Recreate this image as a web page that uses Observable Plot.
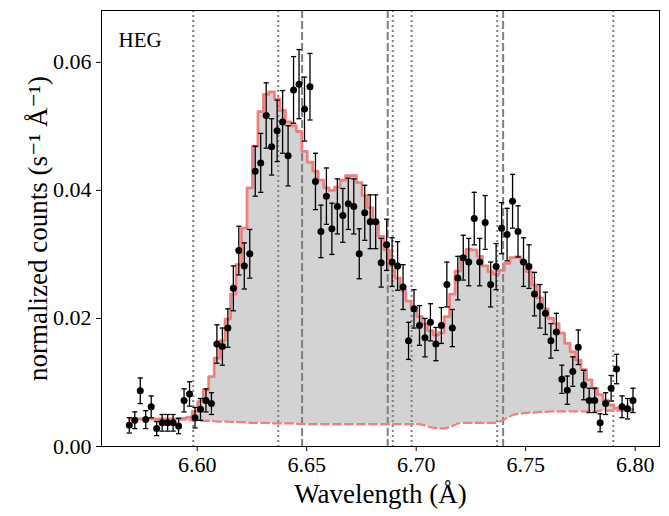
<!DOCTYPE html>
<html>
<head>
<meta charset="utf-8">
<script src="https://cdn.jsdelivr.net/npm/d3@7"></script>
<script src="https://cdn.jsdelivr.net/npm/@observablehq/plot@0.6"></script>
<style>
  html, body { margin: 0; padding: 0; background: white; }
</style>
</head>
<body>
<div id="chart"></div>
<script>
// Bin centres (Å)
const wavelength = [
  6.5690, 6.5715, 6.5740, 6.5765, 6.5790, 6.5815, 6.5840, 6.5865, 6.5890, 6.5915,
  6.5940, 6.5965, 6.5990, 6.6015, 6.6040, 6.6065, 6.6090, 6.6115, 6.6140, 6.6165,
  6.6190, 6.6215, 6.6240, 6.6265, 6.6290, 6.6315, 6.6340, 6.6365, 6.6390, 6.6415,
  6.6440, 6.6465, 6.6490, 6.6515, 6.6540, 6.6565, 6.6590, 6.6615, 6.6640, 6.6665,
  6.6690, 6.6715, 6.6740, 6.6765, 6.6790, 6.6815, 6.6840, 6.6865, 6.6890, 6.6915,
  6.6940, 6.6965, 6.6990, 6.7015, 6.7040, 6.7065, 6.7090, 6.7115, 6.7140, 6.7165,
  6.7190, 6.7215, 6.7240, 6.7265, 6.7290, 6.7315, 6.7340, 6.7365, 6.7390, 6.7415,
  6.7440, 6.7465, 6.7490, 6.7515, 6.7540, 6.7565, 6.7590, 6.7615, 6.7640, 6.7665,
  6.7690, 6.7715, 6.7740, 6.7765, 6.7790, 6.7815, 6.7840, 6.7865, 6.7890, 6.7915,
  6.7940, 6.7965, 6.7990
];
// Observed normalized counts
const counts = [
  0.0033, 0.0041, 0.0087, 0.0042, 0.0062, 0.0028, 0.0037, 0.0037, 0.0037, 0.0032,
  0.0072, 0.0082, 0.0045, 0.0058, 0.0072, 0.0067, 0.0160, 0.0156, 0.0185, 0.0247,
  0.0306, 0.0282, 0.0301, 0.0430, 0.0443, 0.0517, 0.0468, 0.0493, 0.0507, 0.0454,
  0.0557, 0.0566, 0.0527, 0.0562, 0.0414, 0.0336, 0.0391, 0.0340, 0.0375, 0.0361,
  0.0379, 0.0375, 0.0301, 0.0365, 0.0351, 0.0351, 0.0287, 0.0315, 0.0288, 0.0282,
  0.0249, 0.0165, 0.0215, 0.0189, 0.0170, 0.0194, 0.0160, 0.0189, 0.0253, 0.0185,
  0.0263, 0.0295, 0.0288, 0.0356, 0.0288, 0.0350, 0.0253, 0.0281, 0.0341, 0.0331,
  0.0383, 0.0336, 0.0288, 0.0281, 0.0238, 0.0219, 0.0208, 0.0165, 0.0179, 0.0105,
  0.0088, 0.0117, 0.0155, 0.0096, 0.0072, 0.0072, 0.0037, 0.0067, 0.0091, 0.0121,
  0.0062, 0.0059, 0.0072
];
// 1-sigma errors
const errors = [
  0.0012, 0.0013, 0.0020, 0.0014, 0.0017, 0.0011, 0.0013, 0.0013, 0.0013, 0.0012,
  0.0018, 0.0019, 0.0016, 0.0017, 0.0018, 0.0017, 0.0030, 0.0029, 0.0030, 0.0035,
  0.0038, 0.0036, 0.0038, 0.0039, 0.0046, 0.0051, 0.0044, 0.0048, 0.0049, 0.0047,
  0.0052, 0.0054, 0.0050, 0.0052, 0.0044, 0.0041, 0.0044, 0.0040, 0.0043, 0.0042,
  0.0040, 0.0043, 0.0039, 0.0043, 0.0042, 0.0042, 0.0038, 0.0040, 0.0038, 0.0038,
  0.0035, 0.0029, 0.0030, 0.0031, 0.0030, 0.0029, 0.0026, 0.0028, 0.0035, 0.0029,
  0.0034, 0.0035, 0.0037, 0.0041, 0.0037, 0.0042, 0.0035, 0.0036, 0.0040, 0.0041,
  0.0042, 0.0040, 0.0038, 0.0034, 0.0034, 0.0034, 0.0033, 0.0027, 0.0029, 0.0022,
  0.0022, 0.0023, 0.0027, 0.0023, 0.0019, 0.0019, 0.0014, 0.0017, 0.0020, 0.0023,
  0.0017, 0.0016, 0.0019
];
// Model (step)
const model = [
  0.0043, 0.0043, 0.0043, 0.0043, 0.0043, 0.0043, 0.0043, 0.0043, 0.0043, 0.0043,
  0.0044, 0.0046, 0.0055, 0.0070, 0.0088, 0.0109, 0.0138, 0.0165, 0.0199, 0.0238,
  0.0284, 0.0341, 0.0404, 0.0469, 0.0523, 0.0550, 0.0554, 0.0543, 0.0525, 0.0507,
  0.0501, 0.0492, 0.0461, 0.0444, 0.0430, 0.0416, 0.0404, 0.0400, 0.0405, 0.0416,
  0.0423, 0.0423, 0.0412, 0.0392, 0.0373, 0.0351, 0.0328, 0.0307, 0.0283, 0.0263,
  0.0244, 0.0227, 0.0216, 0.0203, 0.0191, 0.0181, 0.0174, 0.0178, 0.0203, 0.0238,
  0.0274, 0.0297, 0.0308, 0.0307, 0.0297, 0.0282, 0.0273, 0.0269, 0.0275, 0.0286,
  0.0295, 0.0296, 0.0288, 0.0273, 0.0252, 0.0232, 0.0215, 0.0200, 0.0192, 0.0177,
  0.0161, 0.0148, 0.0135, 0.0120, 0.0104, 0.0091, 0.0081, 0.0072, 0.0065, 0.0060,
  0.0058, 0.0058, 0.0058
];
// Continuum / background (dashed)
const background = [
  0.0042, 0.0042, 0.0042, 0.0042, 0.0042, 0.0042, 0.0042, 0.0042, 0.0042, 0.0042,
  0.0042, 0.0041, 0.0041, 0.0040, 0.0040, 0.0040, 0.0039, 0.0039, 0.0039, 0.0038,
  0.0038, 0.0038, 0.0037, 0.0037, 0.0037, 0.0037, 0.0036, 0.0036, 0.0036, 0.0036,
  0.0036, 0.0035, 0.0035, 0.0035, 0.0035, 0.0035, 0.0035, 0.0035, 0.0035, 0.0035,
  0.0035, 0.0035, 0.0035, 0.0035, 0.0035, 0.0035, 0.0035, 0.0035, 0.0035, 0.0035,
  0.0035, 0.0035, 0.0035, 0.0035, 0.0033, 0.0030, 0.0029, 0.0028, 0.0029, 0.0032,
  0.0036, 0.0037, 0.0037, 0.0037, 0.0037, 0.0037, 0.0037, 0.0037, 0.0040, 0.0045,
  0.0049, 0.0051, 0.0052, 0.0053, 0.0053, 0.0054, 0.0054, 0.0055, 0.0055, 0.0055,
  0.0055, 0.0055, 0.0055, 0.0055, 0.0055, 0.0055, 0.0056, 0.0056, 0.0056, 0.0056,
  0.0056, 0.0056, 0.0056
];
const dottedLines = [6.5982, 6.6370, 6.6893, 6.6979, 6.7370, 6.7900];
const dashedLines = [6.6479, 6.6870, 6.7397];
const xTicks = [6.60, 6.65, 6.70, 6.75, 6.80];
const yTicks = [0.00, 0.02, 0.04, 0.06];
const xLabel = "Wavelength (Å)";
const yLabel = "normalized counts (s\u207B\u00B9 Å\u207B\u00B9)";
const panelLabel = "HEG";

const rows = wavelength.map((w, i) => ({
  wl: w, y: counts[i], e: errors[i], model: model[i], bg: background[i]
}));

const capSymbol = {
  draw(context, size) {
    const w = Math.sqrt(size / Math.PI);
    context.moveTo(-w, 0);
    context.lineTo(w, 0);
  }
};

const serif = "'Liberation Serif', 'DejaVu Serif', serif";

const chart = Plot.plot({
  width: 669,
  height: 516,
  marginLeft: 101,
  marginRight: 10,
  marginTop: 10,
  marginBottom: 70,
  style: { fontFamily: serif, background: "white", color: "black" },
  x: { domain: [6.5563, 6.8111] },
  y: { domain: [0, 0.0681] },
  marks: [
    Plot.areaY(rows, { x: "wl", y1: "bg", y2: "model", curve: "step", fill: "#d3d3d3" }),
    Plot.ruleX(dottedLines, { stroke: "#7f7f7f", strokeWidth: 2, strokeDasharray: "2,3" }),
    Plot.ruleX(dashedLines, { stroke: "#7f7f7f", strokeWidth: 2, strokeDasharray: "8,3" }),
    Plot.line(rows, { x: "wl", y: "model", curve: "step", stroke: "#f08080", strokeWidth: 2.8 }),
    Plot.line(rows, { x: "wl", y: "bg", stroke: "#f08080", strokeWidth: 2.2, strokeDasharray: "8,4" }),
    Plot.ruleX(rows, { x: "wl", y1: d => d.y - d.e, y2: d => d.y + d.e, stroke: "black", strokeWidth: 1.3 }),
    Plot.dot(rows, { x: "wl", y: d => d.y + d.e, symbol: capSymbol, r: 2.6, fill: "none", stroke: "black", strokeWidth: 1.3 }),
    Plot.dot(rows, { x: "wl", y: d => d.y - d.e, symbol: capSymbol, r: 2.6, fill: "none", stroke: "black", strokeWidth: 1.3 }),
    Plot.dot(rows, { x: "wl", y: "y", r: 3.5, fill: "black", stroke: "none" }),
    Plot.frame({ stroke: "black", strokeWidth: 1 }),
    Plot.axisX({ ticks: xTicks, tickFormat: d3.format(".2f"), tickSize: 5, tickPadding: 5, label: null, fontSize: 22 }),
    Plot.axisY({ ticks: yTicks, tickFormat: d3.format(".2f"), tickSize: 5, tickPadding: 5, label: null, fontSize: 22 }),
    Plot.text([xLabel], { text: d => d, frameAnchor: "bottom", lineAnchor: "middle", textAnchor: "middle", dy: 48, fontSize: 27 }),
    Plot.text([yLabel], { text: d => d, frameAnchor: "left", lineAnchor: "middle", textAnchor: "middle", rotate: -90, dx: -63, fontSize: 27 }),
    Plot.text([panelLabel], { text: d => d, frameAnchor: "top-left", lineAnchor: "middle", textAnchor: "start", dx: 17, dy: 30, fontSize: 21 })
  ]
});
document.getElementById("chart").appendChild(chart);
</script>
</body>
</html>
